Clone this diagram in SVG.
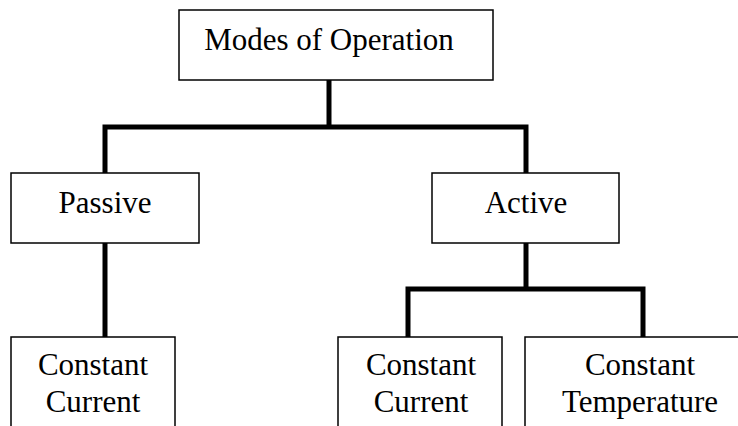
<svg xmlns="http://www.w3.org/2000/svg" width="738" height="426" viewBox="0 0 738 426">
<style>
.box{fill:#fff;stroke:#000;stroke-width:1.5}
.lbl{font-family:"Liberation Serif","Times New Roman",serif;font-size:31px;fill:#000;text-anchor:middle}
.conn{fill:none;stroke:#000;stroke-width:5;stroke-linecap:butt;stroke-linejoin:miter}
</style>
<rect width="738" height="426" fill="#fff"/>
<g id="connectors">
<path class="conn" d="M329,80 V127"/>
<path class="conn" d="M105,173 V127 H526 V173"/>
<path class="conn" d="M105,243 V337"/>
<path class="conn" d="M526,243 V289"/>
<path class="conn" d="M408,337 V289 H643 V337"/>
</g>
<g id="modes">
<rect class="box" x="179" y="10" width="314" height="70"/>
<text class="lbl" x="329" y="50">Modes of Operation</text>
</g>
<g id="passive">
<rect class="box" x="11" y="173" width="188" height="70"/>
<text class="lbl" x="105" y="213">Passive</text>
</g>
<g id="active">
<rect class="box" x="432" y="173" width="187" height="70"/>
<text class="lbl" x="526" y="213">Active</text>
</g>
<g id="passive-cc">
<rect class="box" x="11" y="337" width="164" height="100"/>
<text class="lbl" x="93" y="375">Constant</text>
<text class="lbl" x="93" y="412">Current</text>
</g>
<g id="active-cc">
<rect class="box" x="338" y="337" width="164" height="100"/>
<text class="lbl" x="421" y="375">Constant</text>
<text class="lbl" x="421" y="412">Current</text>
</g>
<g id="active-ct">
<rect class="box" x="525" y="337" width="240" height="100"/>
<text class="lbl" x="640" y="375">Constant</text>
<text class="lbl" x="640" y="412">Temperature</text>
</g>
</svg>
